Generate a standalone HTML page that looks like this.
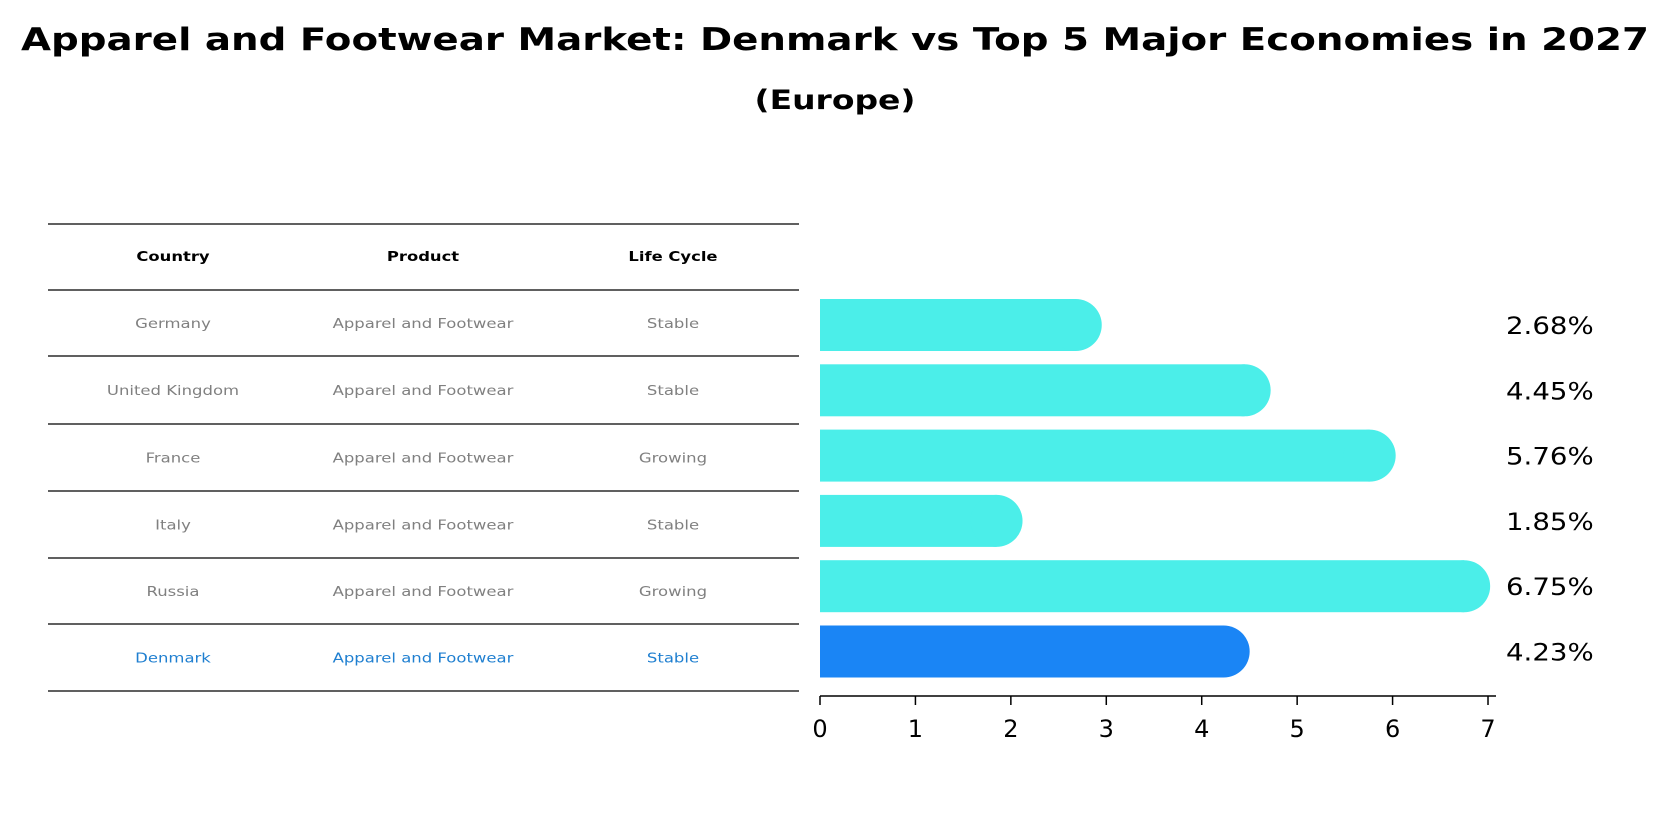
<!DOCTYPE html>
<html><head><meta charset="utf-8"><style>
body{margin:0;background:#fff;}
svg{font-family:"DejaVu Sans","Liberation Sans",sans-serif;}
</style></head><body>
<svg id="c" width="1670" height="823" xmlns="http://www.w3.org/2000/svg">
<text x="835" y="50" text-anchor="middle" font-size="31" font-weight="bold" textLength="1628" lengthAdjust="spacingAndGlyphs">Apparel and Footwear Market: Denmark vs Top 5 Major Economies in 2027</text>
<text x="835" y="109" text-anchor="middle" font-size="27" font-weight="bold" textLength="161" lengthAdjust="spacingAndGlyphs">(Europe)</text>
<g id="table"></g>
<g id="bars"></g>
<g id="axis"></g>
</svg>
<script>
const countries=["Germany","United Kingdom","France","Italy","Russia","Denmark"];
const products=["Apparel and Footwear","Apparel and Footwear","Apparel and Footwear","Apparel and Footwear","Apparel and Footwear","Apparel and Footwear"];
const lifeCycles=["Stable","Stable","Growing","Stable","Growing","Stable"];
const values=[2.68,4.45,5.76,1.85,6.75,4.23];
const valueLabels=["2.68%","4.45%","5.76%","1.85%","6.75%","4.23%"];
const ticks=[0,1,2,3,4,5,6,7];
const NS="http://www.w3.org/2000/svg";
function mk(t,a,p){const e=document.createElementNS(NS,t);for(const k in a)e.setAttribute(k,a[k]);p.appendChild(e);return e;}
function stretch(t,f){const w=t.getComputedTextLength();t.setAttribute('textLength',w*f);t.setAttribute('lengthAdjust','spacingAndGlyphs');}
const x=v=>820+v*95.43;
const yc=i=>325+i*65.3;
const bh=52;
const tb=document.getElementById('table');
const lineY=[224,290,356,424,491,558,624,691];
lineY.forEach(y=>{const l=mk('line',{x1:48,x2:799,y1:y,y2:y,stroke:'#000','stroke-width':1.2},tb);

});
const colX=[173,423,673];
["Country","Product","Life Cycle"].forEach((h,j)=>{const t=mk('text',{x:colX[j],y:261,'text-anchor':'middle','font-size':13,'font-weight':'bold'},tb);t.textContent=h;


stretch(t,1.26);});
countries.forEach((c,i)=>{const y=(lineY[i+1]+lineY[i+2])/2+5;const col=i===5?'#1f7fd0':'#808080';
[c,products[i],lifeCycles[i]].forEach((v,j)=>{const t=mk('text',{x:colX[j],y:y,'text-anchor':'middle','font-size':13.5,fill:col},tb);t.textContent=v;


stretch(t,1.22);});});
const bg=document.getElementById('bars');
values.forEach((v,i)=>{const col=i===5?'#1a85f5':'#4beee9';const top=yc(i)-bh/2;
const r=mk('rect',{x:x(0),y:top,width:x(v)-x(0),height:bh,fill:col},bg);


const cap=mk('circle',{cx:x(v),cy:yc(i),r:bh/2,fill:col},bg);


const t=mk('text',{x:1506,y:yc(i)+9,'font-size':24},bg);t.textContent=valueLabels[i];


stretch(t,1.15);});
const ax=document.getElementById('axis');
const al=mk('line',{x1:x(0),x2:1496,y1:696,y2:696,stroke:'#000','stroke-width':1.5},ax);


ticks.forEach(v=>{const tk=mk('line',{x1:x(v),x2:x(v),y1:696,y2:705,stroke:'#000','stroke-width':1.5},ax);


const t=mk('text',{x:x(v),y:737,'text-anchor':'middle','font-size':24},ax);t.textContent=v;

});
</script>
</body></html>
